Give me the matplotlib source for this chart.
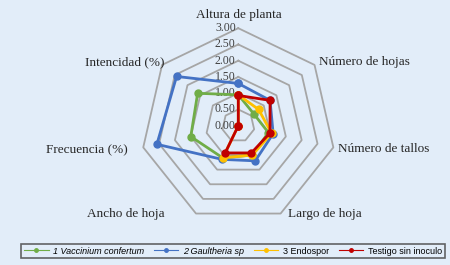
import matplotlib.pyplot as plt
from matplotlib.lines import Line2D
import numpy as np

categories = ['Altura de planta', 'Número de hojas', 'Número de tallos',
              'Largo de hoja', 'Ancho de hoja', 'Frecuencia (%)', 'Intencidad (%)']
series_names = ['1 Vaccinium confertum', '2 Gaultheria sp', '3 Endospor', 'Testigo sin inoculo']
vaccinium = [0.95, 0.60, 0.95, 1.00, 1.10, 1.50, 1.60]
gaultheria = [1.30, 1.25, 1.10, 1.20, 1.15, 2.57, 2.43]
endospor = [0.95, 0.80, 1.05, 1.00, 1.10, 0.00, 0.00]
testigo = [0.93, 1.25, 1.00, 0.93, 0.93, 0.00, 0.00]
ticks = [0.0, 0.5, 1.0, 1.5, 2.0, 2.5, 3.0]

colors = ['#70AD47', '#4472C4', '#FFC000', '#C00000']
bg = '#E2EDF9'

W, H = 450, 265
cx, cy = 238.3, 125.7   # centre in pixels
scale = 32.5            # px per unit

fig = plt.figure(figsize=(4.5, 2.65), dpi=100, facecolor=bg)
ax = fig.add_axes([0, 0, 1, 1])
ax.set_facecolor(bg)
ax.set_xlim(-cx / scale, (W - cx) / scale)
ax.set_ylim(-(H - cy) / scale, cy / scale)
ax.axis('off')

n = len(categories)
ang = np.pi / 2 - np.arange(n) * 2 * np.pi / n

def to_xy(vals):
    v = np.append(vals, vals[0])
    a = np.append(ang, ang[0])
    return v * np.cos(a), v * np.sin(a)

# grid rings + value labels
for r in ticks:
    if r > 0:
        gx, gy = to_xy(np.full(n, r))
        ax.plot(gx, gy, color='#A6A6A6', lw=1.3, zorder=1)
    ax.text(-0.08, r, f'{r:.2f}', ha='right', va='center', fontsize=8.5,
            family='Liberation Serif', color='#404040', zorder=2)

# category labels (anchor, alignment)
lab_pos = [(0.02, 3.41, 'center'), (2.48, 1.96, 'left'), (3.07, -0.72, 'left'),
           (2.66, -2.72, 'center'), (-3.46, -2.72, 'center'),
           (-3.39, -0.75, 'right'), (-2.26, 1.96, 'right')]
for c, (x, y, ha) in zip(categories, lab_pos):
    ax.text(x, y, c, ha=ha, va='center', fontsize=9.5, family='Liberation Serif',
            color='#262626')

# series
data = [vaccinium, gaultheria, endospor, testigo]
for vals, col in zip(data, colors):
    x, y = to_xy(np.array(vals))
    ax.plot(x, y, color=col, lw=2, marker='o', ms=5, zorder=3)

# legend
handles = [Line2D([0], [0], color=c, lw=0.8, marker='o', ms=2.5) for c in colors]
leg = fig.legend(handles, series_names, loc='center', ncol=4,
                 bbox_to_anchor=(233 / W, 1 - 251 / H), frameon=True,
                 fancybox=False, edgecolor='#404040', facecolor=bg,
                 handlelength=2.7, columnspacing=1.1,
                 borderpad=0.3, handletextpad=0.5,
                 prop={'family': 'Liberation Sans', 'size': 6.5})
leg.get_frame().set_linewidth(1.2)
for t in leg.get_texts()[:2]:
    t.set_style('italic')

fig.savefig('out.png', dpi=100, facecolor=bg)
